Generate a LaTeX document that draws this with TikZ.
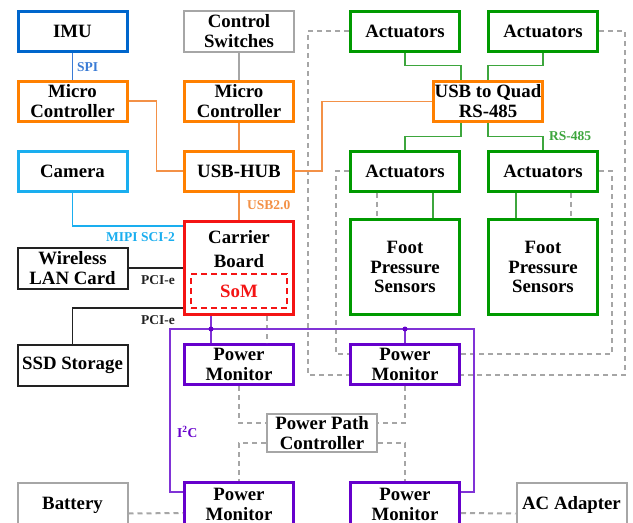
\documentclass[tikz,border=0pt]{standalone}
\usepackage{fontspec}
\setmainfont{Liberation Serif}
\usetikzlibrary{calc}
\definecolor{cblue}{HTML}{0066CC}
\definecolor{cbluel}{HTML}{3A7BD5}
\definecolor{ccyan}{HTML}{1AAEEF}
\definecolor{corange}{HTML}{FF8000}
\definecolor{corangel}{HTML}{F39147}
\definecolor{cred}{HTML}{F41414}
\definecolor{cgreen}{HTML}{009A00}
\definecolor{cgreenl}{HTML}{3DA63D}
\definecolor{cpurple}{HTML}{6600CC}
\definecolor{cpurplel}{HTML}{8033D6}
\definecolor{cgrey}{HTML}{A6A6A6}
\definecolor{cblack}{HTML}{222222}
\begin{document}
\begin{tikzpicture}[x=1pt,y=-1pt,
  box/.style={draw, fill=white, inner sep=0pt, align=center,
    font=\fontsize{18.8}{19.5}\selectfont\bfseries,
    minimum width=109pt, minimum height=40pt, line width=3pt},
  thinbox/.style={box, line width=2pt, minimum width=110pt, minimum height=41pt},
  lab/.style={font=\fontsize{13.5}{14}\selectfont\bfseries, inner sep=0pt},
  gdash/.style={draw=cgrey, line width=2pt, dash pattern=on 5pt off 4pt},
  conn/.style={line width=1.6pt},
  tapdot/.style={fill=cpurple, circle, inner sep=0pt, minimum size=5pt}]
\useasboundingbox (0,0) rectangle (633,523);
\fill[white] (0,0) rectangle (633,523);

% nodes
\node[box, draw=cblue] (imu) at (72.5,31) {IMU};
\node[thinbox, draw=cgrey] (cs) at (239,31) {Control\\Switches};
\node[box, draw=corange] (mcl) at (72.5,101) {Micro\\Controller};
\node[box, draw=corange] (mcc) at (239,101) {Micro\\Controller};
\node[box, draw=ccyan] (cam) at (72.5,171) {Camera};
\node[box, draw=corange] (hub) at (239,171) {USB-HUB};
\node[box, draw=cred, minimum height=93pt] (carrier) at (239,268) {};
\node[inner sep=0pt, align=center, font=\fontsize{18.8}{24.5}\selectfont\bfseries] (cartext) at (239,249) {Carrier\\Board};
\node[draw=cred, line width=2pt, dash pattern=on 6pt off 4pt, minimum width=96pt, minimum height=34pt,
  inner sep=0pt, text=cred, font=\fontsize{18.8}{19.5}\selectfont\bfseries] (som) at (239,291) {SoM};
\node[thinbox, draw=cblack] (wlan) at (72.5,268) {Wireless\\LAN Card};
\node[thinbox, draw=cblack] (ssd) at (72.5,365) {SSD Storage};
\node[box, draw=cgreen] (atl) at (405,31) {Actuators};
\node[box, draw=cgreen] (atr) at (543,31) {Actuators};
\node[box, draw=corange] (quad) at (488,101) {USB to Quad\\RS-485};
\node[box, draw=cgreen] (aml) at (405,171) {Actuators};
\node[box, draw=cgreen] (amr) at (543,171) {Actuators};
\node[box, draw=cgreen, minimum height=95pt] (fl) at (405,267) {Foot\\Pressure\\Sensors};
\node[box, draw=cgreen, minimum height=95pt] (fr) at (543,267) {Foot\\Pressure\\Sensors};
\node[box, draw=cpurple] (pm1) at (239,364.5) {Power\\Monitor};
\node[box, draw=cpurple] (pm2) at (405,364.5) {Power\\Monitor};
\node[thinbox, draw=cgrey, minimum height=38pt] (ppc) at (322,433) {Power Path\\Controller};
\node[box, draw=cpurple, minimum height=44pt] (pm3) at (239,504.5) {Power\\Monitor};
\node[box, draw=cpurple, minimum height=44pt] (pm4) at (405,504.5) {Power\\Monitor};
\node[thinbox, draw=cgrey, minimum height=45pt] (bat) at (72.5,505) {Battery};
\node[thinbox, draw=cgrey, minimum height=45pt] (ac) at (571.5,505) {AC Adapter};

% labels
\node[lab, text=cbluel, anchor=west] (spi) at (77,67) {SPI};
\node[lab, text=corangel, anchor=west] (usb2) at (247,205) {USB2.0};
\node[lab, text=ccyan, anchor=east] (mipi) at (175,237) {MIPI SCI-2};
\node[lab, text=cblack, anchor=east] (pcie1) at (175,280) {PCI-e};
\node[lab, text=cblack, anchor=east] (pcie2) at (175,320) {PCI-e};
\node[lab, text=cgreenl, anchor=west] (rs) at (549,136) {RS-485};
\node[lab, text=cpurple, anchor=west] (i2c) at (177,432) {I\textsuperscript{2}C};

% grey dashed power lines (drawn first)
\draw[gdash] (atl.west) -- ++(-41,0) |- ([yshift=-10.5pt]pm2.west);
\draw[gdash] (atr.east) -- ++(26,0) |- ([yshift=-10.5pt]pm2.east);
\draw[gdash] (aml.west) -- ++(-13,0) |- ([yshift=10.5pt]pm2.west);
\draw[gdash] (amr.east) -- ++(13,0) |- ([yshift=10.5pt]pm2.east);
\draw[gdash] ([xshift=-28pt]aml.south) -- ([xshift=-28pt]fl.north);
\draw[gdash] ([xshift=28pt]amr.south) -- ([xshift=28pt]fr.north);
\draw[gdash] ([xshift=28pt]carrier.south) -- ([xshift=28pt]pm1.north);
\draw[gdash] (pm1.south) |- ([yshift=10pt]ppc.west);
\draw[gdash] (pm2.south) |- ([yshift=10pt]ppc.east);
\draw[gdash] ([yshift=-10pt]ppc.west) -| (pm3.north);
\draw[gdash] ([yshift=-10pt]ppc.east) -| (pm4.north);
\draw[gdash] ([yshift=-8.5pt]bat.east) -- ([yshift=-8.5pt]pm3.west);
\draw[gdash] ([yshift=-8.5pt]pm4.east) -- ([yshift=-8.5pt]ac.west);

% solid connectors
\draw[conn, cbluel] (imu.south) -- (mcl.north);
\draw[conn, cgrey] (cs.south) -- (mcc.north);
\draw[conn, corangel] (mcc.south) -- (hub.north);
\draw[conn, corangel] (mcl.east) -- ++(28,0) |- (hub.west);
\draw[conn, corangel] (hub.east) -- ++(27,0) |- ([yshift=-0.5pt]quad.west);
\draw[conn, corangel] (hub.south) -- (carrier.north);
\draw[conn, ccyan] (cam.south) |- ([yshift=-6pt]carrier.north west);
\draw[conn, cblack] (wlan.east) -- (wlan.east -| carrier.west);
\draw[conn, cblack] ([yshift=8pt]carrier.south west) -| (ssd.north);

\draw[conn, cgreenl] (atl.south) |- ([xshift=29pt,yshift=14pt]quad.north west) -- ([xshift=29pt]quad.north west);
\draw[conn, cgreenl] (atr.south) |- ([xshift=56pt,yshift=14pt]quad.north west) -- ([xshift=56pt]quad.north west);
\draw[conn, cgreenl] ([xshift=29pt]quad.south west) -- ++(0,14) -| (aml.north);
\draw[conn, cgreenl] ([xshift=56pt]quad.south west) -- ++(0,14) -| (amr.north);
\draw[conn, cgreenl] ([xshift=28pt]aml.south) -- ([xshift=28pt]fl.north);
\draw[conn, cgreenl] ([xshift=-27pt]amr.south) -- ([xshift=-27pt]fr.north);

% I2C bus
\coordinate (i2cL) at (170,329);
\coordinate (i2cR) at (474,329);
\coordinate (tap1) at ([xshift=-28pt]carrier.south);
\coordinate (tap1b) at ([xshift=-28pt]pm1.north);
\draw[conn, cpurplel] ([yshift=12.5pt]pm3.west) -| (i2cL) -- (i2cR) |- ([yshift=12.5pt]pm4.east);
\draw[conn, cpurplel] (tap1) -- (tap1b);
\draw[conn, cpurplel] (pm2.north) -- (pm2.north |- i2cL);
\node[tapdot] (dot1) at (tap1 |- i2cL) {};
\node[tapdot] (dot2) at (pm2.north |- i2cL) {};
\end{tikzpicture}
\end{document}
